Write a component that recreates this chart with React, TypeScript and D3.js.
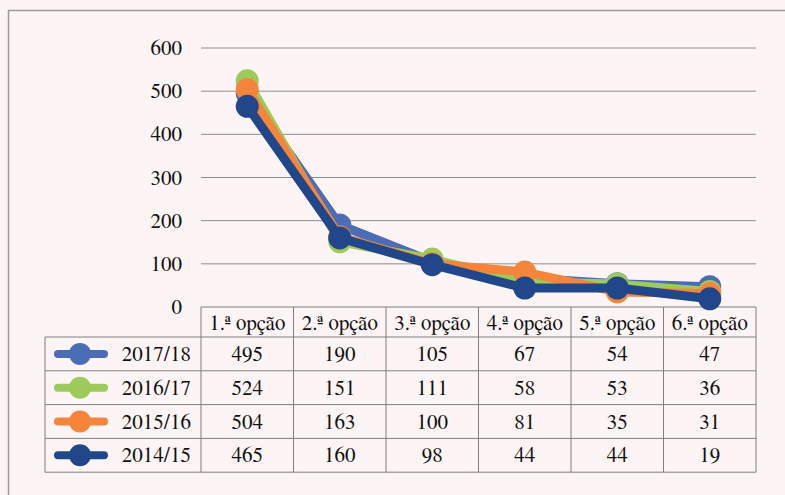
import React from 'react';
import * as d3 from 'd3';

const categories = ['1.ª opção', '2.ª opção', '3.ª opção', '4.ª opção', '5.ª opção', '6.ª opção'];
const seriesNames = ['2017/18', '2016/17', '2015/16', '2014/15'];
const values2017 = [495, 190, 105, 67, 54, 47];
const values2016 = [524, 151, 111, 58, 53, 36];
const values2015 = [504, 163, 100, 81, 35, 31];
const values2014 = [465, 160, 98, 44, 44, 19];
const yTicks = [0, 100, 200, 300, 400, 500, 600];
const colors = ['#4A6DB5', '#9DCB5B', '#F5853A', '#21478A'];

const seriesValues = [values2017, values2016, values2015, values2014];

const textStyle = { fontFamily: 'FreeSerif, "Liberation Serif", serif', fontSize: 21 };

export default function App() {
  const width = 785;
  const height = 495;
  const plotLeft = 201;
  const plotRight = 756;
  const plotTop = 48;
  const plotBottom = 307;
  const rowH = 33.8;
  const headerH = 30;
  const legendLeft = 45;

  const x = d3.scaleBand<string>().domain(categories).range([plotLeft, plotRight]);
  const y = d3.scaleLinear().domain([0, 600]).range([plotBottom, plotTop]);
  const cx = (i: number) => (x(categories[i]) as number) + x.bandwidth() / 2;
  const line = d3
    .line<number>()
    .x((_, i) => cx(i))
    .y((d) => y(d));

  const tableTop = plotBottom;
  const rowsTop = tableTop + headerH;
  const tableBottom = rowsTop + rowH * seriesNames.length;

  return (
    <svg width={width} height={height} style={{ position: 'absolute', left: 0, top: 0 }}>
      <rect x={0} y={0} width={width} height={height} fill="#FDF5F5" />
      <path d={`M8.5,${height} V10.5 H${width}`} fill="none" stroke="#9a9a9a" strokeWidth={1.5} />

      {/* gridlines and y labels */}
      {yTicks.map((t) => (
        <g key={t}>
          {t > 0 && (
            <line x1={plotLeft} x2={plotRight} y1={y(t)} y2={y(t)} stroke="#8c8c8c" strokeWidth={1} />
          )}
          <text x={182} y={y(t) + 7} textAnchor="end" style={textStyle} fill="#111">
            {t}
          </text>
        </g>
      ))}

      {/* table grid */}
      <g stroke="#7f7f7f" strokeWidth={1} fill="none">
        <line x1={plotLeft} x2={plotRight} y1={tableTop} y2={tableTop} />
        <line x1={legendLeft} x2={plotRight} y1={rowsTop} y2={rowsTop} />
        {seriesNames.map((s, i) => (
          <line
            key={s}
            x1={legendLeft}
            x2={plotRight}
            y1={rowsTop + rowH * (i + 1)}
            y2={rowsTop + rowH * (i + 1)}
          />
        ))}
        <line x1={legendLeft} x2={legendLeft} y1={rowsTop} y2={tableBottom} />
        {categories.map((c) => (
          <line key={c} x1={x(c) as number} x2={x(c) as number} y1={tableTop} y2={tableBottom} />
        ))}
        <line x1={plotRight} x2={plotRight} y1={tableTop} y2={tableBottom} />
      </g>

      {/* header */}
      {categories.map((c, j) => (
        <text key={c} x={cx(j)} y={tableTop + 23} textAnchor="middle" style={textStyle} fill="#111">
          {c}
        </text>
      ))}

      {/* rows */}
      {seriesNames.map((s, i) => {
        const cy = rowsTop + rowH * i + rowH / 2;
        return (
          <g key={s}>
            <line x1={58} x2={104} y1={cy} y2={cy} stroke={colors[i]} strokeWidth={8} strokeLinecap="round" />
            <circle cx={80} cy={cy} r={11} fill={colors[i]} />
            <text x={191} y={cy + 7} textAnchor="end" style={textStyle} fill="#111">
              {s}
            </text>
            {seriesValues[i].map((v, j) => (
              <text key={j} x={cx(j)} y={cy + 7} textAnchor="middle" style={textStyle} fill="#111">
                {v}
              </text>
            ))}
          </g>
        );
      })}

      {/* series lines */}
      {seriesValues.map((vals, i) => (
        <g key={seriesNames[i]}>
          <path d={line(vals) as string} fill="none" stroke={colors[i]} strokeWidth={9} strokeLinejoin="round" />
          {vals.map((v, j) => (
            <circle key={j} cx={cx(j)} cy={y(v)} r={11.5} fill={colors[i]} />
          ))}
        </g>
      ))}
    </svg>
  );
}
